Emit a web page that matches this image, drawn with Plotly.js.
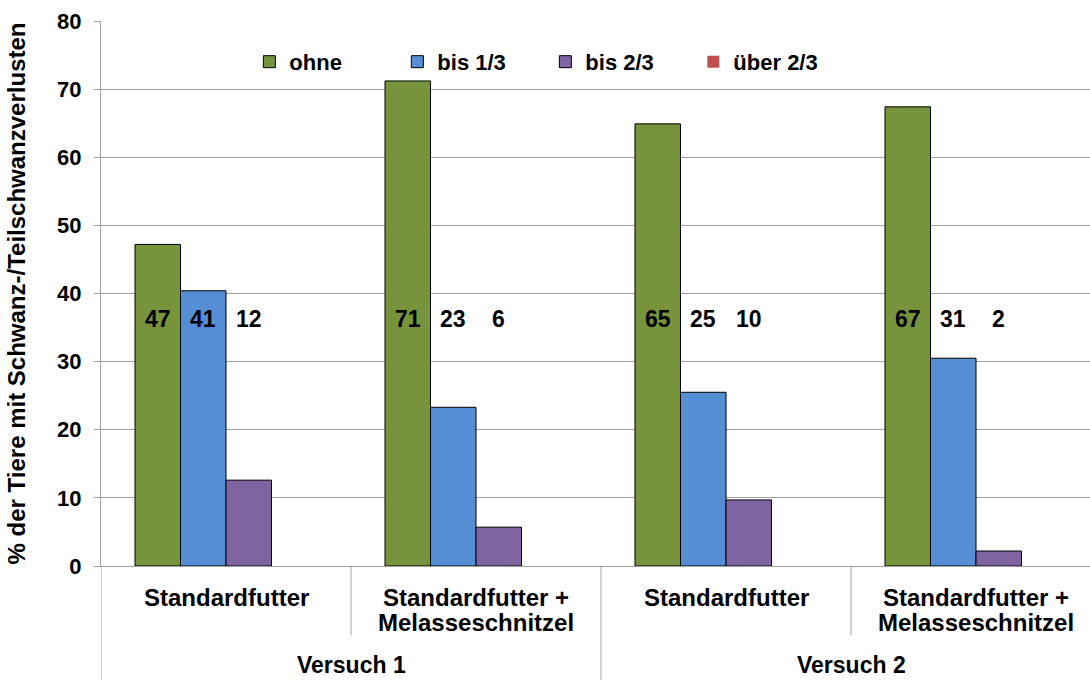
<!DOCTYPE html>
<html>
<head>
<meta charset="utf-8">
<script src="https://cdn.plot.ly/plotly-3.0.1.min.js"></script>
<style>html,body{margin:0;padding:0;background:#fff;}#chart{width:1090px;height:680px;}</style>
</head>
<body>
<div id="chart"></div>
<script>
// ---- data ----
const groupPositions = [0, 1, 2, 3];
const groupLabelLine1 = ['Standardfutter', 'Standardfutter +', 'Standardfutter', 'Standardfutter +'];
const groupLabelLine2 = ['', 'Melasseschnitzel', '', 'Melasseschnitzel'];
const versuchLabels = ['Versuch 1', 'Versuch 2'];
const versuchCenters = [0.5, 2.5];
const seriesNames = ['ohne', 'bis 1/3', 'bis 2/3', 'über 2/3'];
const ohne = [47.2, 71.2, 64.9, 67.4];
const bis13 = [40.4, 23.3, 25.5, 30.5];
const bis23 = [12.6, 5.7, 9.7, 2.2];
const ueber23 = [0, 0, 0, 0];
const labelsOhne = [47, 71, 65, 67];
const labelsBis13 = [41, 23, 25, 31];
const labelsBis23 = [12, 6, 10, 2];
const labelY = 36.3;
const yTicks = [0, 10, 20, 30, 40, 50, 60, 70, 80];

// ---- styles ----
const colors = ['#77933C', '#558ED5', '#8064A2', '#C0504D'];
const FONT = 'Liberation Sans, Arial, sans-serif';
const bargap = 0.272;
const gridColor = '#A0A0A0';

const values = [ohne, bis13, bis23, ueber23];
const traces = values.map((v, i) => ({
  type: 'bar',
  name: seriesNames[i],
  x: groupPositions,
  y: v,
  marker: {color: colors[i], line: {color: '#000', width: i === 3 ? 0 : 1}},
  hoverinfo: 'skip'
}));

const annotations = [];
const barW = (1 - bargap) / 4;
[labelsOhne, labelsBis13, labelsBis23].forEach((arr, k) => {
  arr.forEach((val, g) => {
    annotations.push({
      xref: 'x', yref: 'y', x: groupPositions[g] + (k - 1.5) * barW, y: labelY,
      text: '<b>' + val + '</b>', showarrow: false,
      font: {family: FONT, size: 23, color: '#000'}
    });
  });
});
groupPositions.forEach((pos, g) => {
  annotations.push({
    xref: 'x', yref: 'paper', x: pos, y: -0.0569, yanchor: 'middle',
    text: '<b>' + groupLabelLine1[g] + '</b>', showarrow: false,
    font: {family: FONT, size: 24, color: '#000'}
  });
  if (groupLabelLine2[g]) {
    annotations.push({
      xref: 'x', yref: 'paper', x: pos, y: -0.1028, yanchor: 'middle',
      text: '<b>' + groupLabelLine2[g] + '</b>', showarrow: false,
      font: {family: FONT, size: 24, color: '#000'}
    });
  }
});
versuchLabels.forEach((t, i) => {
  annotations.push({
    xref: 'x', yref: 'paper', x: versuchCenters[i], y: -0.1817, yanchor: 'middle',
    text: '<b>' + t + '</b>', showarrow: false,
    font: {family: FONT, size: 23, color: '#000'}
  });
});

const shapes = [];
const dividers = [[-0.5, -0.209], [0.5, -0.127], [1.5, -0.209], [2.5, -0.127]];
dividers.forEach(d => shapes.push({
  type: 'line', xref: 'x', yref: 'paper', x0: d[0], x1: d[0], y0: 0, y1: d[1],
  line: {color: gridColor, width: 1}
}));

const layout = {
  width: 1090, height: 680,
  margin: {l: 101, r: 0, t: 21, b: 114},
  paper_bgcolor: '#fff', plot_bgcolor: '#fff',
  barmode: 'group', bargap: bargap, bargroupgap: 0,
  font: {family: FONT, color: '#000'},
  showlegend: true,
  legend: {
    orientation: 'h', x: 0.150, xanchor: 'left', y: 0.925, yanchor: 'middle',
    font: {family: FONT, size: 22, color: '#000', weight: 'bold'},
    entrywidth: 103, bgcolor: 'rgba(0,0,0,0)'
  },
  xaxis: {
    range: [-0.5, 3.456], showticklabels: false, ticks: '',
    showgrid: false, zeroline: false, showline: true, linecolor: gridColor, linewidth: 1,
    fixedrange: true
  },
  yaxis: {
    range: [0, 80], tickvals: yTicks, ticktext: yTicks.map(v => '<b>' + v + '</b>'),
    ticks: 'outside', ticklen: 6, tickcolor: gridColor, ticklabelstandoff: 8,
    tickfont: {family: FONT, size: 22, color: '#000'},
    showgrid: true, gridcolor: gridColor, gridwidth: 1,
    zeroline: false, showline: true, linecolor: gridColor, linewidth: 1,
    title: {text: '<b>% der Tiere mit Schwanz-/Teilschwanzverlusten</b>', font: {family: FONT, size: 24, color: '#000'}, standoff: 24},
    fixedrange: true
  },
  annotations: annotations,
  shapes: shapes
};

Plotly.newPlot('chart', traces, layout, {displayModeBar: false, staticPlot: true});
</script>
</body>
</html>
